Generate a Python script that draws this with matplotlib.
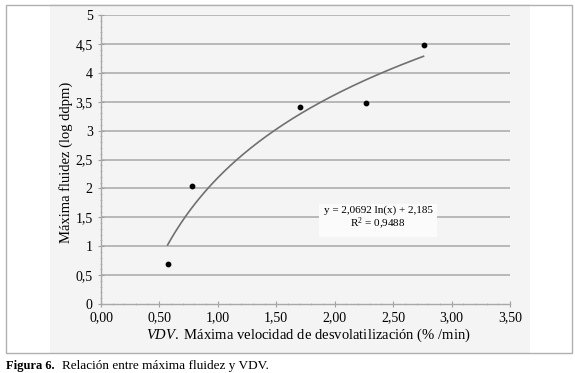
import numpy as np
import matplotlib.pyplot as plt
from matplotlib.patches import Rectangle
from matplotlib.ticker import MultipleLocator

# datos
vdv = [0.57, 0.78, 1.70, 2.27, 2.76]
fluidez = [0.70, 2.05, 3.40, 3.48, 4.48]
a_coef, b_coef = 2.0692, 2.185
eq_text = "y = 2,0692 ln(x) + 2,185\nR$^2$ = 0,9488"
xticks = [0, 0.5, 1.0, 1.5, 2.0, 2.5, 3.0, 3.5]
xlabels = ["0,00", "0,50", "1,00", "1,50", "2,00", "2,50", "3,00", "3,50"]
yticks = [0, 0.5, 1, 1.5, 2, 2.5, 3, 3.5, 4, 4.5, 5]
ylabels = ["0", "0,5", "1", "1,5", "2", "2,5", "3", "3,5", "4", "4,5", "5"]

plt.rcParams['font.family'] = ['Liberation Serif', 'DejaVu Serif']
plt.rcParams['mathtext.fontset'] = 'custom'
plt.rcParams['mathtext.rm'] = 'Liberation Serif'
plt.rcParams['mathtext.it'] = 'Liberation Serif:italic'

fig = plt.figure(figsize=(5.75, 3.73), dpi=100)
W, H = 575, 373
# marco exterior y fondo gris claro
fig.patches.append(Rectangle((50/W, 1-353/H), 480/W, 349/H, transform=fig.transFigure,
                             facecolor='#f4f4f4', edgecolor='none', zorder=-2))
fig.patches.append(Rectangle((6/W, 1-353/H), 566/W, 348/H, transform=fig.transFigure,
                             facecolor='none', edgecolor='#b0b0b0', lw=1.0, zorder=-1))

ax = fig.add_axes([101/W, 1-304/H, 409/W, 289/H])
ax.set_facecolor('none')
ax.set_xlim(0, 3.5)
ax.set_ylim(0, 5)

for y in yticks[1:]:
    ax.axhline(y, color='#a8a8a8', lw=1.1, zorder=0)

# linea de tendencia logaritmica
xt = np.linspace(min(vdv), max(vdv), 200)
ax.plot(xt, a_coef*np.log(xt) + b_coef, color='#707070', lw=1.2, zorder=2)
ax.scatter(vdv, fluidez, s=10, color='black', zorder=3)

ax.text(2.37, 1.47, eq_text, ha='center', va='center', fontsize=8, linespacing=1.1,
        bbox=dict(facecolor='#fbfbfb', edgecolor='none', pad=3, alpha=1), zorder=4)

ax.set_xticks(xticks)
ax.set_xticklabels(xlabels, fontsize=10)
ax.set_yticks(yticks)
ax.set_yticklabels(ylabels, fontsize=10)
ax.xaxis.set_minor_locator(MultipleLocator(0.1))
ax.yaxis.set_minor_locator(MultipleLocator(0.1))
ax.tick_params(axis='both', which='major', length=4, color='#a0a0a0', width=0.8, direction='inout')
ax.tick_params(axis='both', which='minor', length=2, color='#b8b8b8', width=0.6, direction='inout')
ax.tick_params(axis='x', pad=3)
ax.tick_params(axis='y', pad=4)
for s in ['top', 'right']:
    ax.spines[s].set_visible(False)
for s in ['left', 'bottom']:
    ax.spines[s].set_color('#a8a8a8')
    ax.spines[s].set_linewidth(1.0)

fig.text(66/W, 1-162/H, "Máxima fluidez (log ddpm)", rotation=90, ha='center', va='center',
         fontsize=10.5)
fig.text(308/W, 1-335/H, r"$\it{VDV.}$ Máxima velocidad de desvolatilización (% /min)",
         ha='center', va='center', fontsize=10.5)

fig.text(6/W, 1-366/H, "Figura 6.", ha='left', va='center', fontsize=9, fontweight='bold')
fig.text(62/W, 1-366/H, "Relación entre máxima fluidez y VDV.", ha='left', va='center', fontsize=9.5)

fig.savefig("out.png", dpi=100)
